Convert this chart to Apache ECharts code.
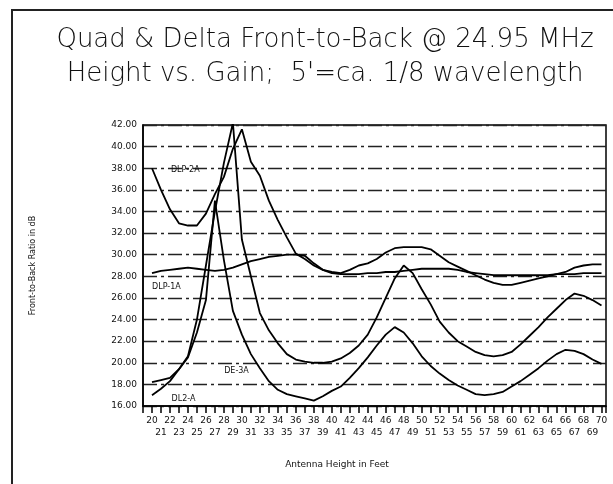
<!DOCTYPE html>
<html>
<head>
<meta charset="utf-8">
<script src="https://cdn.jsdelivr.net/npm/echarts@6/dist/echarts.min.js"></script>
<style>html,body{margin:0;padding:0;background:#fff}#c{width:613px;height:484px}</style>
</head>
<body>
<div id="c"></div>
<script>
// Antenna height in feet (categories)
const heights = [];
for (let h = 20; h <= 70; h++) heights.push(h);

// Front-to-back ratio (dB)
const dlp2a = [38.0,36.0,34.2,32.9,32.7,32.7,33.8,35.6,37.2,39.8,41.6,38.6,37.3,35.0,33.2,31.6,30.1,29.6,29.0,28.6,28.4,28.3,28.6,29.0,29.2,29.6,30.2,30.6,30.7,30.7,30.7,30.5,29.9,29.3,28.9,28.5,28.1,27.7,27.4,27.2,27.2,27.4,27.6,27.8,28.0,28.2,28.4,28.8,29.0,29.1,29.1];
const dlp1a = [28.3,28.5,28.6,28.7,28.8,28.7,28.6,28.5,28.6,28.8,29.1,29.4,29.6,29.8,29.9,30.0,30.0,29.9,29.2,28.6,28.3,28.2,28.2,28.2,28.3,28.3,28.4,28.4,28.5,28.6,28.7,28.7,28.7,28.7,28.6,28.4,28.3,28.2,28.1,28.1,28.1,28.1,28.1,28.1,28.1,28.2,28.2,28.2,28.3,28.3,28.3];
const dl3a = [18.2,18.4,18.6,19.4,20.6,24.0,29.0,34.0,38.5,42.2,31.4,28.0,24.6,23.0,21.8,20.8,20.3,20.1,20.0,20.0,20.1,20.4,20.9,21.6,22.6,24.2,26.0,27.8,29.0,28.3,26.8,25.4,23.8,22.8,22.0,21.5,21.0,20.7,20.6,20.7,21.0,21.7,22.5,23.3,24.2,25.0,25.8,26.4,26.2,25.8,25.3];
const dl2a = [17.0,17.6,18.3,19.4,20.5,22.8,25.8,35.0,29.5,24.8,22.6,20.8,19.5,18.3,17.5,17.1,16.9,16.7,16.5,16.9,17.4,17.8,18.6,19.5,20.5,21.6,22.6,23.3,22.8,21.8,20.6,19.7,19.0,18.4,17.9,17.5,17.1,17.0,17.1,17.3,17.8,18.3,18.9,19.5,20.2,20.8,21.2,21.1,20.8,20.3,19.9];

const seriesNames = ['DLP-2A','DLP-1A','DE-3A','DL2-A'];
const seriesValues = [dlp2a, dlp1a, dl3a, dl2a];
// where each curve's tag sits, in data units [height, dB]
const tagPos = [[23.7,37.8],[21.6,27.0],[29.4,19.2],[23.5,16.7]];

const yTicks = [16,18,20,22,24,26,28,30,32,34,36,38,40,42];

const titleText = 'Quad & Delta Front-to-Back @ 24.95 MHz';
const subText = "Height vs. Gain;  5'=ca. 1/8 wavelength";
const xName = 'Antenna Height in Feet';
const yName = 'Front-to-Back Ratio in dB';

const chart = echarts.init(document.getElementById('c'), null, {renderer:'canvas'});
const FONT = 'DejaVu Sans';

const series = seriesValues.map((vals, i) => ({
  name: seriesNames[i],
  type: 'line',
  data: vals.map((v, j) => [heights[j], v]),
  showSymbol: false,
  symbol: 'none',
  clip: true,
  lineStyle: {color: '#000', width: 1.8},
  markPoint: {
    symbol: 'circle', symbolSize: 0,
    label: {show: true, formatter: seriesNames[i], color: '#111', fontFamily: FONT, fontSize: 8, position: 'inside'},
    data: [{coord: tagPos[i]}]
  },
  z: 3
}));

chart.setOption({
  animation: false,
  backgroundColor: '#fff',
  title: [
    {text: titleText, left: 320, top: 22, textAlign: 'center',
     textStyle: {fontFamily: FONT, fontWeight: 200, fontSize: 26, color: '#111'}},
    {text: subText, left: 320, top: 56, textAlign: 'center',
     textStyle: {fontFamily: FONT, fontWeight: 200, fontSize: 26, color: '#111'}},
    {text: xName, left: 332, top: 455, textAlign: 'center',
     textStyle: {fontFamily: FONT, fontWeight: 'normal', fontSize: 9, color: '#111'}}
  ],
  graphic: [
    {type: 'polyline', shape: {points: [[12,484],[12,10],[613,10]]},
     style: {stroke: '#222', lineWidth: 2, fill: null}}
  ],
  grid: {left: 143, top: 125, width: 463, height: 281, show: true, borderColor: '#000', borderWidth: 1.5, backgroundColor: 'transparent'},
  xAxis: {
    type: 'value', min: 19, max: 70.5, interval: 1,
    axisLine: {show: true, lineStyle: {color: '#000', width: 1.5}},
    axisTick: {show: true, length: 7, lineStyle: {color: '#000', width: 1.5}},
    splitLine: {show: false},
    axisLabel: {
      margin: 9, fontFamily: FONT, fontSize: 9, color: '#111', lineHeight: 12,
      showMinLabel: true, showMaxLabel: true,
      formatter: v => (v < 20 || v > 70 || v % 1 !== 0) ? '' : (v % 2 ? '\n' + v : v + '\n')
    }
  },
  yAxis: {
    type: 'value', min: 16, max: 42, interval: 2,
    name: yName, nameLocation: 'middle', nameGap: 106,
    nameTextStyle: {fontFamily: FONT, fontSize: 8, color: '#111'},
    axisLine: {show: true, lineStyle: {color: '#000', width: 1.5}},
    axisTick: {show: false},
    splitLine: {show: true, lineStyle: {color: '#222', width: 1.4, type: [14, 4, 3, 4]}},
    axisLabel: {margin: 6, fontFamily: FONT, fontSize: 9, color: '#111',
      formatter: v => v.toFixed(2)}
  },
  series: series
});
</script>
</body>
</html>
